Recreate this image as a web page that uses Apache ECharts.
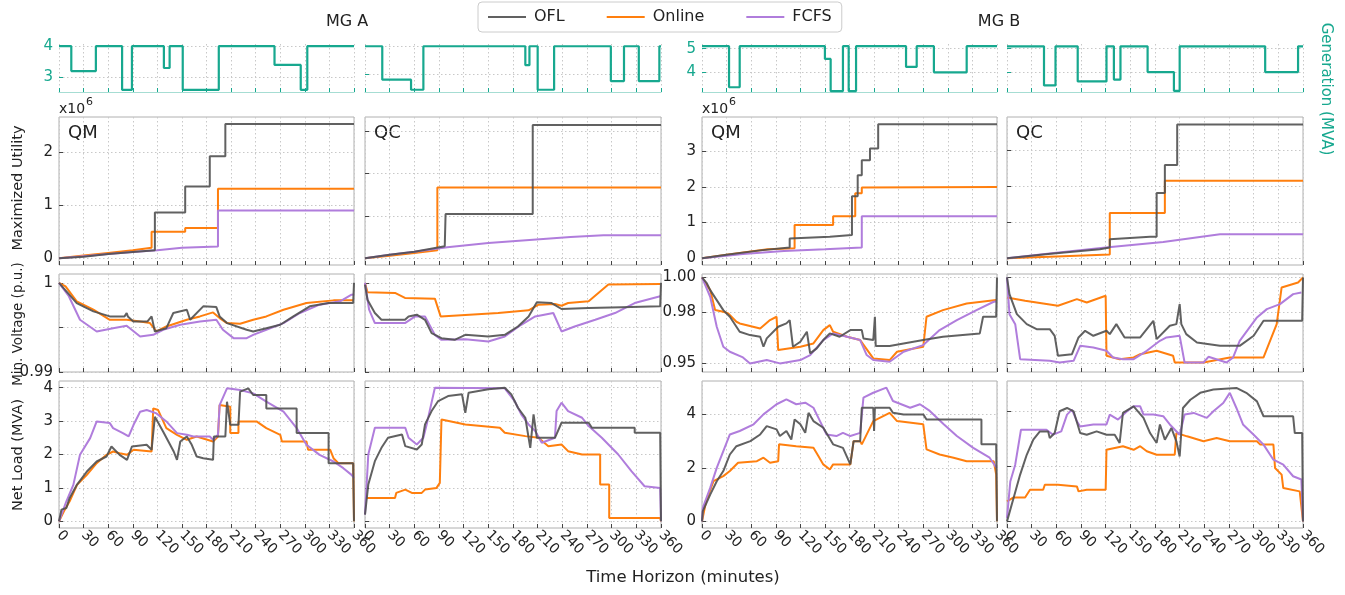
<!DOCTYPE html>
<html><head><meta charset="utf-8">
<script src="https://cdn.jsdelivr.net/npm/echarts@6/dist/echarts.min.js"></script>
<style>html,body{margin:0;padding:0;background:#fff}#c{width:1345px;height:595px}</style>
</head><body><div id="c"></div>
<script>
// ---------------- DATA ----------------
const timeTicks = [0,30,60,90,120,150,180,210,240,270,300,330,360];
const seriesNames = ['OFL','Online','FCFS'];
const panelTags = ['QM','QC','QM','QC'];
const groupTitles = ['MG A','MG B'];

// Generation (MVA), [minute, value] change points
const genA_QM = [[0,4],[15,3.2],[45,4],[77,2.6],[89,4],[128,3.3],[135,4],[151,2.6],[195,4],[263,3.4],[295,2.6],[303,4],[360,4]];
const genA_QC = [[0,4],[21,2.8],[56,2.44],[71,4],[195,3.32],[200,4],[210,2.44],[230,4],[299,2.75],[315,4],[333,2.75],[358,4],[360,4]];
const genB_QM = [[0,5.11],[33,3.37],[46,5.11],[150,4.57],[157,3.21],[172,5.11],[179,3.21],[188,5.11],[249,4.23],[262,5.11],[283,4],[323,5.11],[360,5.11]];
const genB_QC = [[0,5.1],[45,3.43],[59,5.1],[86,3.6],[121,5.1],[130,3.68],[138,5.1],[171,4],[203,3.2],[210,5.1],[314,4],[354,5.1],[360,5.1]];

// Maximized utility (x10^6)
const util_A_QM_OFL = [[0,0],[30,0.03],[60,0.08],[90,0.12],[117,0.15],[117,0.86],[154,0.86],[154,1.35],[184,1.35],[184,1.92],[203,1.92],[203,2.53],[360,2.53]];
const util_A_QM_Online = [[0,0],[30,0.05],[60,0.1],[90,0.15],[113,0.2],[113,0.5],[154,0.5],[154,0.57],[194,0.57],[194,1.31],[360,1.31]];
const util_A_QM_FCFS = [[0,0],[30,0.04],[60,0.08],[90,0.12],[120,0.15],[150,0.2],[194,0.22],[194,0.9],[360,0.9]];
const util_A_QC_OFL = [[0,0],[30,0.08],[60,0.15],[97,0.28],[98,1.04],[204,1.04],[204,3.14],[360,3.14]];
const util_A_QC_Online = [[0,0],[30,0.06],[60,0.12],[88,0.19],[88,1.67],[360,1.67]];
const util_A_QC_FCFS = [[0,0],[30,0.08],[60,0.15],[100,0.26],[150,0.36],[200,0.43],[250,0.5],[290,0.54],[360,0.54]];
const util_B_QM_OFL = [[0,0],[30,0.1],[71,0.22],[107,0.3],[107,0.55],[156,0.6],[183,0.65],[183,1.74],[190,1.74],[190,2.33],[195,2.33],[195,2.75],[205,2.75],[205,3.08],[215,3.08],[215,3.76],[360,3.76]];
const util_B_QM_Online = [[0,0],[30,0.1],[80,0.25],[113,0.28],[113,0.93],[160,0.93],[160,1.18],[187,1.18],[187,1.82],[195,1.82],[195,1.98],[360,2.0]];
const util_B_QM_FCFS = [[0,0],[50,0.12],[100,0.2],[150,0.25],[195,0.3],[195,1.18],[360,1.18]];
const util_B_QC_OFL = [[0,0],[50,0.12],[113,0.25],[125,0.3],[125,0.53],[174,0.6],[182,0.6],[182,1.82],[192,1.82],[192,2.6],[207,2.6],[207,3.73],[360,3.73]];
const util_B_QC_Online = [[0,0],[60,0.05],[125,0.1],[125,1.26],[192,1.26],[192,2.16],[360,2.16]];
const util_B_QC_FCFS = [[0,0],[60,0.15],[120,0.3],[190,0.45],[259,0.67],[360,0.67]];

// Minimum voltage (p.u.)
const volt_A_QM_OFL = [[0,1.0],[21.6,0.99774],[42,0.9968],[62,0.99624],[80,0.99624],[82.6,0.99662],[84,0.99624],[90.7,0.99568],[108,0.99568],[113,0.99624],[117,0.99455],[131,0.99492],[139.5,0.99662],[156,0.99699],[160,0.99586],[176,0.99737],[192,0.99729],[196,0.99624],[205,0.99549],[229,0.99474],[237,0.99455],[253,0.99492],[270,0.9953],[286,0.99624],[306,0.99737],[329,0.99774],[359,0.99774],[360,1.0]];
const volt_A_QM_Online = [[0,1.0],[8,0.99962],[21.6,0.99793],[42,0.99699],[62,0.99586],[82.6,0.99586],[99,0.99568],[111,0.99549],[119,0.99455],[131,0.99511],[156,0.99586],[172,0.99624],[188,0.99669],[196,0.99605],[205,0.99549],[221,0.99541],[237,0.99586],[253,0.99624],[274,0.99699],[302,0.99774],[335,0.99804],[359,0.99804]];
const volt_A_QM_FCFS = [[0,1.0],[12,0.9985],[25.6,0.99586],[46,0.99455],[66,0.99492],[82.6,0.99519],[99,0.99398],[115,0.99417],[127,0.99474],[148,0.9953],[172,0.99568],[192,0.99586],[200,0.99474],[213,0.9938],[229,0.9938],[237,0.99417],[253,0.99474],[274,0.99549],[294,0.99662],[318,0.99756],[343,0.99793],[357,0.99868],[360,0.9987]];
const volt_A_QC_OFL = [[0,0.99981],[3,0.99812],[12,0.99662],[20,0.99586],[48.6,0.99586],[53,0.99624],[63,0.99643],[73,0.99586],[81,0.99436],[93,0.9938],[109,0.99361],[122,0.99417],[150,0.99398],[170,0.99417],[186,0.99511],[199,0.99624],[209,0.99782],[227,0.99774],[239,0.99707],[272,0.99718],[312,0.99726],[359,0.99737],[360,1.0]];
const volt_A_QC_Online = [[0,1.0],[3,0.99895],[36.5,0.99887],[48.6,0.99831],[85,0.99823],[92,0.99624],[94,0.99643],[162,0.99662],[199,0.99692],[211,0.99756],[231,0.99763],[239,0.99744],[247,0.99774],[272,0.99793],[296,0.99981],[359,0.99989]];
const volt_A_QC_FCFS = [[0,1.0],[5,0.99699],[12,0.99549],[48.6,0.99549],[61,0.99624],[73,0.99624],[85,0.99417],[93,0.99361],[122,0.99368],[150,0.99342],[170,0.99398],[190,0.9953],[207,0.99624],[229,0.99662],[239,0.99455],[255,0.99511],[280,0.99586],[304,0.99662],[328,0.99774],[359,0.9985]];
const volt_B_QM_OFL = [[0,1.0],[6,0.99651],[10,0.99264],[18,0.98682],[26,0.98101],[34,0.97713],[46,0.96841],[58.6,0.96647],[71,0.9655],[75,0.95969],[79,0.96453],[93,0.97132],[103,0.97326],[107,0.97519],[111,0.95969],[120,0.9626],[128,0.96841],[132,0.95581],[140,0.95872],[148,0.96357],[156,0.96744],[168,0.9655],[181,0.96938],[195,0.96938],[197,0.96453],[209,0.96357],[211,0.97713],[212,0.96008],[229,0.96008],[246,0.96163],[270,0.96357],[294,0.9655],[339,0.96744],[343,0.97713],[359,0.97713],[360,1.0]];
const volt_B_QM_Online = [[0,1.0],[10,0.99264],[16,0.98101],[26,0.98004],[32,0.97907],[42,0.97422],[46,0.97326],[71,0.97035],[83,0.97519],[91,0.97713],[93,0.95775],[120,0.95969],[136,0.96163],[148,0.96938],[156,0.97229],[160,0.96841],[177,0.9655],[193,0.96357],[209,0.95291],[229,0.95194],[238,0.95678],[270,0.95969],[274,0.97713],[294,0.98101],[323,0.98488],[359,0.98682]];
const volt_B_QM_FCFS = [[0,1.0],[10,0.98876],[18,0.97132],[26,0.95969],[34,0.95678],[50,0.95349],[58.6,0.95],[79,0.95194],[95,0.95],[120,0.95194],[132,0.95485],[148,0.96357],[160,0.96744],[177,0.9655],[193,0.96357],[201,0.95485],[209,0.95194],[229,0.95097],[246,0.95678],[270,0.96066],[290,0.96938],[311,0.97519],[335,0.98101],[356,0.98585],[359,0.986]];
const volt_B_QC_OFL = [[0,1.0],[3,0.9903],[12,0.97866],[24,0.97284],[36,0.96993],[52,0.96993],[58,0.96605],[62,0.95441],[79,0.95538],[87,0.96508],[95,0.96896],[105,0.96605],[121,0.96896],[125,0.96702],[133,0.97284],[143,0.96508],[162,0.96508],[178,0.97478],[182,0.96411],[198,0.97187],[206,0.97284],[210,0.98448],[212,0.97284],[218,0.96702],[231,0.96217],[259,0.96023],[283,0.96023],[300,0.96605],[312,0.97478],[359,0.97478],[360,1.0]];
const volt_B_QC_Online = [[0,0.98836],[22,0.98642],[62,0.98351],[85,0.98739],[97,0.98545],[120,0.98933],[121,0.95441],[137,0.95247],[154,0.95344],[162,0.95538],[182,0.95732],[202,0.95441],[204,0.95053],[239,0.95053],[271,0.95344],[312,0.95344],[328,0.97284],[334,0.99418],[354,0.99709],[360,1.0]];
const volt_B_QC_FCFS = [[0,1.0],[3,0.97866],[10,0.97284],[16,0.95247],[52,0.9515],[64,0.95053],[81,0.9515],[89,0.96023],[105,0.95926],[121,0.95732],[129,0.95344],[141,0.95247],[154,0.95247],[170,0.95732],[186,0.96314],[194,0.96508],[210,0.96605],[216,0.95053],[239,0.95053],[245,0.95383],[267,0.95053],[275,0.95344],[283,0.96314],[304,0.97672],[316,0.98157],[332,0.98448],[348,0.9903],[358,0.99127]];

// Net load (MVA)
const load_A_QM_OFL = [[0,0],[3,0.35],[9,0.4],[13,0.7],[22,1.1],[34,1.49],[46,1.79],[58,1.94],[64,2.24],[74,1.99],[83,1.84],[89,2.24],[107,2.29],[113,2.14],[117,3.13],[127,2.69],[140,2.09],[144,1.84],[148,2.39],[156,2.54],[162,2.29],[168,1.94],[176,1.89],[188,1.84],[189,2.54],[203,2.54],[205,3.58],[209,2.89],[219,2.89],[221,3.88],[231,3.98],[237,3.78],[253,3.78],[253,3.38],[290,3.38],[290,2.64],[329,2.64],[329,1.74],[359,1.74],[360,0]];
const load_A_QM_Online = [[0,0],[6,0.3],[13,0.6],[22,1.09],[34,1.39],[46,1.74],[58,1.99],[66,2.09],[74,2.04],[83,1.99],[91,2.14],[113,2.09],[115,3.38],[121,3.33],[131,2.79],[144,2.59],[156,2.44],[168,2.54],[188,2.39],[194,2.54],[196,3.48],[209,3.43],[209,2.64],[219,2.64],[219,2.99],[241,2.99],[253,2.79],[270,2.59],[272,2.39],[302,2.39],[304,2.14],[331,2.14],[335,1.89],[341,1.74],[359,1.74],[360,0]];
const load_A_QM_FCFS = [[0,0],[9,0.6],[17.5,1.09],[25.6,1.99],[38,2.49],[46,2.99],[62,2.94],[66,2.79],[78,2.64],[85,2.54],[91,2.89],[99,3.28],[107,3.33],[119,3.23],[131,2.99],[144,2.64],[156,2.59],[164,2.54],[184,2.54],[188,2.44],[194,2.59],[196,3.48],[205,3.98],[221,3.93],[237,3.83],[253,3.58],[274,3.28],[290,2.79],[302,2.29],[318,1.99],[335,1.79],[347,1.59],[357,1.39],[360,1.3]];
const load_A_QC_OFL = [[0,0.2],[4,1.1],[12,1.8],[20,2.2],[28,2.5],[45,2.6],[49,2.25],[63,2.15],[69,2.3],[73,2.9],[81,3.3],[89,3.6],[101,3.75],[118,3.8],[122,3.25],[126,3.85],[150,3.95],[170,4.0],[178,3.8],[186,3.4],[195,3.1],[201,2.2],[205,3.2],[209,2.5],[231,2.5],[239,2.95],[272,2.95],[276,2.8],[328,2.8],[328,2.65],[359,2.65],[360,0]];
const load_A_QC_Online = [[0,0.7],[36.5,0.7],[38,0.85],[49,0.95],[57,0.85],[69,0.85],[73,0.95],[87,1.0],[91,1.15],[93,3.05],[122,2.9],[164,2.8],[170,2.65],[195,2.55],[211,2.5],[223,2.25],[239,2.3],[247,2.1],[264,2.0],[286,2.0],[286,1.1],[297,1.1],[297,0.1],[359,0.1],[360,0]];
const load_A_QC_FCFS = [[0,0.2],[4,2.0],[12,2.8],[49,2.8],[53,2.5],[63,2.3],[71,2.5],[75,2.9],[85,4.0],[170,3.98],[182,3.6],[190,3.2],[199,2.9],[207,2.7],[215,2.35],[231,2.5],[233,3.3],[239,3.55],[247,3.3],[264,3.1],[272,2.85],[288,2.5],[308,2.0],[324,1.5],[340,1.05],[359,1.0],[360,0]];
const load_B_QM_OFL = [[0,0],[1,0.38],[10,1.0],[18,1.5],[26,1.88],[34,2.5],[42,2.81],[59,3.0],[71,3.25],[79,3.56],[91,3.44],[95,3.19],[103,3.38],[109,3.06],[113,3.81],[120,3.63],[126,3.31],[130,4.06],[136,3.75],[148,3.5],[160,2.88],[172,2.75],[181,2.13],[185,3.0],[193,3.0],[195,4.25],[209,4.25],[210,3.38],[211,4.25],[229,4.25],[233,4.06],[246,4.0],[270,4.0],[274,3.81],[341,3.81],[341,2.88],[359,2.88],[360,0]];
const load_B_QM_Online = [[0,0],[5,0.75],[14,1.5],[26,1.69],[34,1.88],[44,2.19],[67,2.25],[75,2.38],[83,2.19],[93,2.25],[94,2.88],[115,2.81],[136,2.75],[142,2.44],[148,2.13],[156,1.94],[160,2.13],[181,2.13],[185,3.0],[193,3.0],[195,2.88],[209,3.75],[229,4.06],[238,3.75],[270,3.63],[274,2.69],[290,2.5],[307,2.38],[323,2.25],[356,2.25],[359,1.75],[360,0]];
const load_B_QM_FCFS = [[0,0],[1,0.5],[10,1.25],[18,2.0],[26,2.63],[34,3.25],[46,3.38],[63,3.63],[75,4.0],[91,4.38],[103,4.56],[115,4.38],[126,4.44],[136,4.25],[144,3.75],[152,3.25],[164,3.19],[172,3.31],[181,3.19],[193,3.31],[197,4.63],[209,4.81],[225,5.0],[233,4.5],[254,4.25],[266,4.38],[278,4.13],[295,3.63],[311,3.19],[331,2.75],[351,2.38],[358,2.06],[360,2.0]];
const load_B_QC_OFL = [[0,0],[8,0.85],[16,1.7],[24,2.42],[32,2.97],[40,3.27],[50,3.27],[52,3.03],[58,3.21],[64,4.0],[73,4.12],[81,4.0],[89,3.21],[97,3.15],[109,3.27],[121,3.15],[131,3.15],[137,2.85],[141,3.94],[154,4.18],[166,3.76],[174,3.21],[182,2.85],[186,3.52],[192,2.97],[200,3.39],[206,2.91],[210,2.36],[214,4.12],[223,4.42],[235,4.67],[251,4.79],[279,4.85],[291,4.67],[304,4.36],[312,3.82],[348,3.82],[350,3.21],[359,3.21],[360,0]];
const load_B_QC_Online = [[0,0.73],[8,0.87],[22,0.87],[28,1.15],[44,1.15],[46,1.33],[62,1.33],[64,1.27],[85,1.27],[87,1.09],[97,1.15],[120,1.15],[121,2.6],[141,2.73],[154,2.6],[162,2.73],[170,2.55],[182,2.42],[204,2.42],[206,3.21],[219,3.09],[239,2.91],[255,3.03],[271,2.91],[304,2.91],[308,2.79],[324,2.79],[326,1.94],[334,1.7],[336,1.21],[356,1.09],[360,0]];
const load_B_QC_FCFS = [[0,0.12],[4,1.45],[10,2.06],[17,3.33],[48,3.33],[56,3.15],[66,3.27],[73,3.88],[79,4.06],[85,3.64],[89,3.45],[105,3.52],[121,3.52],[125,3.88],[135,3.7],[146,4.0],[154,4.18],[162,4.18],[166,3.88],[178,3.88],[190,3.82],[198,3.52],[210,3.15],[216,3.88],[227,3.94],[243,3.76],[251,4.0],[263,4.3],[271,4.67],[279,4.12],[287,3.52],[300,3.15],[312,2.79],[324,2.24],[336,2.06],[348,1.64],[358,1.52],[360,0]];

// tick values per panel
const genTicks = [[3,4],[3,4],[4,5],[4,5]];
const utilTicks = [[0,1,2],[0,1,2,3],[0,1,2,3],[0,1,2,3]];
const voltTicks = [[0.99,0.995,1],[0.99,0.995,1],[0.95,0.98,1],[0.95,0.98,1]];
const voltLabels = [[0.99,1],[],[0.95,0.98,1],[]];
const loadTicks = [[0,1,2,3,4],[0,1,2,3,4],[0,2,4],[0,2,4]];

// ---------------- LAYOUT / STYLE ----------------
const FONT = 'DejaVu Sans';
const COLORS = {OFL:'rgba(80,80,80,0.9)', Online:'#ff7f0e', FCFS:'#b07ddc'};
const TEAL = '#17a88f';
const colLeft = [59,365,702,1007], colW = [295,296,295,296];
const rowTop = [44,117,274,381], rowH = [48,148,98,147];
const yRange = [
  [[2.53,4.07],[2.36,4.08],[3.17,5.2],[3.15,5.2]],
  [[-0.127,2.66],[-0.16,3.33],[-0.19,3.96],[-0.19,3.94]],
  [[0.99,1.001],[0.99,1.001],[0.945,1.002],[0.945,1.002]],
  [[-0.2,4.2],[-0.2,4.2],[-0.25,5.25],[-0.24,5.1]]
];

const rowsData = [
  [genA_QM, genA_QC, genB_QM, genB_QC],
  [{OFL:util_A_QM_OFL,Online:util_A_QM_Online,FCFS:util_A_QM_FCFS},{OFL:util_A_QC_OFL,Online:util_A_QC_Online,FCFS:util_A_QC_FCFS},{OFL:util_B_QM_OFL,Online:util_B_QM_Online,FCFS:util_B_QM_FCFS},{OFL:util_B_QC_OFL,Online:util_B_QC_Online,FCFS:util_B_QC_FCFS}],
  [{OFL:volt_A_QM_OFL,Online:volt_A_QM_Online,FCFS:volt_A_QM_FCFS},{OFL:volt_A_QC_OFL,Online:volt_A_QC_Online,FCFS:volt_A_QC_FCFS},{OFL:volt_B_QM_OFL,Online:volt_B_QM_Online,FCFS:volt_B_QM_FCFS},{OFL:volt_B_QC_OFL,Online:volt_B_QC_Online,FCFS:volt_B_QC_FCFS}],
  [{OFL:load_A_QM_OFL,Online:load_A_QM_Online,FCFS:load_A_QM_FCFS},{OFL:load_A_QC_OFL,Online:load_A_QC_Online,FCFS:load_A_QC_FCFS},{OFL:load_B_QM_OFL,Online:load_B_QM_Online,FCFS:load_B_QM_FCFS},{OFL:load_B_QC_OFL,Online:load_B_QC_Online,FCFS:load_B_QC_FCFS}]
];
const rowTicks = [genTicks, utilTicks, voltTicks, loadTicks];

const grids = [], xAxes = [], yAxes = [], series = [];
const gridLine = {show:true, lineStyle:{type:[1.5,2.5], color:'#c8c8c8', width:1}};

for (let r = 0; r < 4; r++) {
  for (let c = 0; c < 4; c++) {
    const i = grids.length;
    const isGen = r === 0;
    grids.push({left:colLeft[c], top:rowTop[r], width:colW[c], height:rowH[r],
      show:!isGen, borderColor:'#b0b0b0', borderWidth:1, containLabel:false});
    xAxes.push({type:'value', gridIndex:i, min:0, max:360, interval:30,
      axisLine:{show:isGen, onZero:false, lineStyle:{color:'#a6ddd3', width:1}},
      axisTick:{show:true, inside:true, length:4, lineStyle:{color:isGen?TEAL:'#444'}},
      axisLabel:{show:r===3, rotate:-45, fontSize:14, fontFamily:FONT, color:'#222', margin:5},
      splitLine:gridLine});
    const ticks = rowTicks[r][c];
    let labels = (c === 0 || c === 2) ? ticks : [];
    if (r === 2) labels = voltLabels[c];
    let fmt = v => String(v);
    if (r === 2) fmt = (c < 2) ? (v => (v === 1 ? '1' : String(v))) : (v => Number(v).toFixed(2));
    yAxes.push({type:'value', gridIndex:i, min:yRange[r][c][0], max:yRange[r][c][1],
      axisLine:{show:false},
      axisTick:{show:true, inside:true, length:4, customValues:ticks, lineStyle:{color:isGen?TEAL:'#444'}},
      axisLabel:{show:labels.length>0, customValues:labels.length?labels:ticks, formatter:fmt,
        fontSize:15, fontFamily:FONT, color:isGen?TEAL:'#222', margin:6},
      splitLine:gridLine});
    if (isGen) {
      series.push({type:'line', name:'Generation', xAxisIndex:i, yAxisIndex:i, data:rowsData[r][c],
        step:'end', showSymbol:false, symbol:'none', silent:true,
        lineStyle:{color:TEAL, width:2.2}, itemStyle:{color:TEAL}});
    } else {
      ['Online','FCFS','OFL'].forEach(n => {
        series.push({type:'line', name:n, xAxisIndex:i, yAxisIndex:i, data:rowsData[r][c][n],
          showSymbol:false, symbol:'none', silent:true,
          lineStyle:{color:COLORS[n], width:2}, itemStyle:{color:COLORS[n]}});
      });
    }
  }
}

function txt(text, x, y, opt) {
  return Object.assign({type:'text', x:x, y:y, silent:true,
    style:Object.assign({text:text, fontSize:17, fontFamily:FONT, fill:'#222',
      textAlign:'center', textVerticalAlign:'middle', verticalAlign:'middle'}, opt && opt.style)},
    opt && opt.el);
}

const graphics = [
  txt(groupTitles[0], 347, 22, {style:{fontSize:16}}),
  txt(groupTitles[1], 999, 22, {style:{fontSize:16}}),
  txt(panelTags[0], 68, 133, {style:{textAlign:'left', fontSize:18}}),
  txt(panelTags[1], 374, 133, {style:{textAlign:'left', fontSize:18}}),
  txt(panelTags[2], 711, 133, {style:{textAlign:'left', fontSize:18}}),
  txt(panelTags[3], 1016, 133, {style:{textAlign:'left', fontSize:18}}),
  txt('x10', 59, 109, {style:{textAlign:'left', fontSize:14}}),
  txt('6', 86, 102, {style:{textAlign:'left', fontSize:11}}),
  txt('x10', 702, 109, {style:{textAlign:'left', fontSize:14}}),
  txt('6', 729, 102, {style:{textAlign:'left', fontSize:11}}),
  txt('Maximized Utility', 18, 188, {style:{fontSize:14.5}, el:{rotation:Math.PI/2}}),
  txt('Min. Voltage (p.u.)', 18, 324, {style:{fontSize:13.5}, el:{rotation:Math.PI/2}}),
  txt('Net Load (MVA)', 18, 455, {style:{fontSize:14.5}, el:{rotation:Math.PI/2}}),
  txt('Generation (MVA)', 1326, 89, {style:{fontSize:15, fill:TEAL}, el:{rotation:-Math.PI/2}}),
  txt('Time Horizon (minutes)', 683, 578, {style:{fontSize:16.5}})
];

const chart = echarts.init(document.getElementById('c'), null, {renderer:'canvas'});
chart.setOption({
  animation:false,
  backgroundColor:'#fff',
  textStyle:{fontFamily:FONT},
  legend:{data:seriesNames, top:2, left:478, icon:'rect', itemWidth:38, itemHeight:2, itemGap:42,
    selectedMode:false, borderColor:'#cccccc', borderWidth:1, borderRadius:4,
    padding:[7,10,7,10], backgroundColor:'#fff',
    textStyle:{fontSize:16, fontFamily:FONT, color:'#222', padding:[0,0,0,3]}},
  grid:grids, xAxis:xAxes, yAxis:yAxes, series:series,
  graphic:graphics
});
</script></body></html>
